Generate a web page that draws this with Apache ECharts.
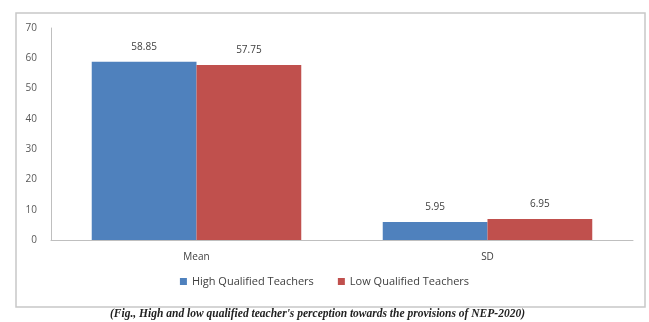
<!DOCTYPE html>
<html><head><meta charset="utf-8">
<script src="https://cdn.jsdelivr.net/npm/echarts@6/dist/echarts.min.js"></script>
<style>html,body{margin:0;padding:0;background:#fff}#c{width:649px;height:322px}</style>
</head><body><div id="c"></div>
<script>
const categories = ['Mean', 'SD'];
const highQualified = [58.85, 5.95];
const lowQualified = [57.75, 6.95];
const seriesNames = ['High Qualified Teachers', 'Low Qualified Teachers'];
const caption = "(Fig., High and low qualified teacher's perception towards the provisions of NEP-2020)";

const chart = echarts.init(document.getElementById('c'));
const lbl = {show: true, position: 'top', color: '#404040', fontSize: 10, fontFamily: 'Open Sans', distance: 10, formatter: p => p.value.toFixed(2)};
chart.setOption({
  animation: false,
  graphic: [
    {type: 'rect', shape: {x: 16, y: 13, width: 629, height: 294}, style: {fill: 'none', stroke: '#c8c8c8', lineWidth: 1.5}, z: -1},
    {type: 'text', left: 110, top: 308, style: {text: caption, font: 'italic bold 11.5px "Liberation Serif"', fill: '#222'}}
  ],
  grid: {left: 51, right: 16, top: 28, bottom: 82},
  legend: {bottom: 30, left: 'center', itemWidth: 7, itemHeight: 7, itemGap: 24, icon: 'rect',
    textStyle: {fontSize: 11, color: '#404040', fontFamily: 'Open Sans'}, data: seriesNames},
  xAxis: {type: 'category', data: categories, axisTick: {show: false},
    axisLine: {lineStyle: {color: '#bfbfbf'}},
    axisLabel: {color: '#404040', fontSize: 10, fontFamily: 'Open Sans', margin: 12}},
  yAxis: {type: 'value', min: 0, max: 70, interval: 10, splitLine: {show: false},
    axisLine: {show: true, lineStyle: {color: '#bfbfbf'}}, axisTick: {show: false},
    axisLabel: {color: '#595959', fontSize: 10, fontFamily: 'Open Sans', margin: 14}},
  series: [
    {name: seriesNames[0], type: 'bar', data: highQualified, itemStyle: {color: '#4F81BD'}, barGap: '0%', barCategoryGap: '28%', label: lbl},
    {name: seriesNames[1], type: 'bar', data: lowQualified, itemStyle: {color: '#C0504D'}, label: lbl}
  ]
});
</script></body></html>
